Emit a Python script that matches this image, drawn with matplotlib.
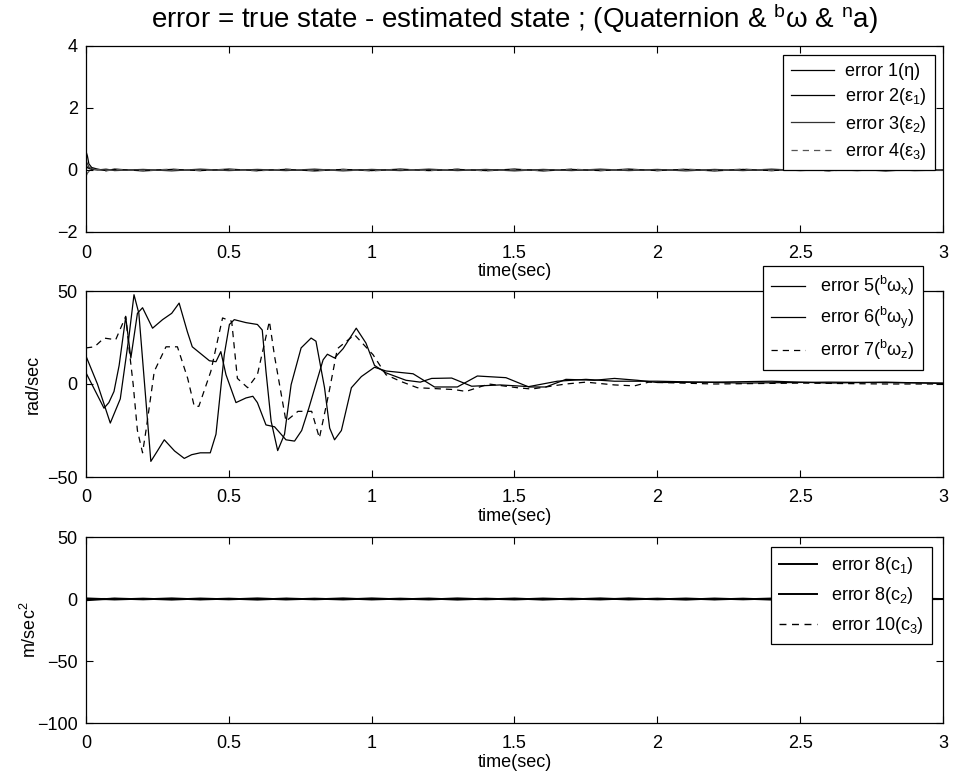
import matplotlib
matplotlib.use("Agg")
import matplotlib.pyplot as plt

plt.rcParams["font.family"] = ["Liberation Sans", "DejaVu Sans"]
plt.rcParams["mathtext.default"] = "regular"
plt.rcParams["font.size"] = 13

# ---- top panel: quaternion errors (tiny, spike at start)
t_q = [0, 0.005, 0.01, 0.02, 0.04, 0.07, 0.1, 0.2, 0.3, 0.4, 0.5, 0.6, 0.7, 0.8, 0.9, 1.0,
       1.1, 1.2, 1.3, 1.4, 1.5, 1.6, 1.7, 1.8, 1.9, 2.0, 2.1, 2.2, 2.3, 2.4, 2.5, 2.6, 2.7, 2.8, 2.9, 3.0]
q1 = [0.0, 0.1, 0.05, 0.02, 0.01, 0.0, 0.01, 0.0, 0.01, 0.0, 0.0, 0.01, 0.0, 0.0, 0.01, 0.0,
      0.0, 0.01, 0.0, 0.0, 0.0, 0.01, 0.0, 0.0, 0.0, 0.0, 0.01, 0.0, 0.0, 0.0, 0.0, 0.01, 0.0, 0.0, 0.0, 0.0]
q2 = [0.6, 0.45, 0.2, 0.08, 0.03, -0.02, 0.03, -0.03, 0.02, -0.02, 0.03, -0.02, 0.02, -0.03, 0.02, -0.02,
      0.03, -0.02, 0.02, -0.02, 0.03, -0.03, 0.02, -0.02, 0.03, -0.02, 0.02, -0.03, 0.02, -0.02, 0.03, -0.02, 0.02, -0.03, 0.02, 0.0]
q3 = [0.3, 0.2, 0.1, 0.04, 0.0, 0.03, -0.02, 0.02, -0.03, 0.03, -0.02, 0.02, -0.02, 0.03, -0.03, 0.02,
      -0.02, 0.03, -0.02, 0.02, -0.03, 0.02, -0.02, 0.03, -0.02, 0.02, -0.03, 0.02, -0.02, 0.03, -0.02, 0.02, -0.02, 0.03, -0.02, 0.0]
q4 = [-0.2, -0.1, -0.05, 0.0, 0.02, -0.03, 0.02, -0.02, 0.03, -0.02, 0.02, -0.03, 0.03, -0.02, 0.02, -0.03,
      0.02, -0.02, 0.03, -0.03, 0.02, -0.02, 0.03, -0.02, 0.02, -0.02, 0.03, -0.02, 0.03, -0.02, 0.02, -0.03, 0.03, -0.02, 0.02, 0.0]

# ---- middle panel: gyro bias errors
t_w5 = [0, 0.04, 0.085, 0.12, 0.15, 0.168, 0.185, 0.205, 0.227, 0.25, 0.274, 0.31, 0.344, 0.37, 0.4, 0.435,
        0.455, 0.484, 0.502, 0.519, 0.56, 0.6, 0.617, 0.63, 0.648, 0.671, 0.695, 0.718, 0.753, 0.788, 0.805,
        0.835, 0.853, 0.87, 0.894, 0.929, 0.964, 1.01, 1.05, 1.145, 1.22, 1.3, 1.37, 1.47, 1.55, 1.61, 1.68,
        1.78, 1.85, 1.93, 2.0, 2.2, 2.4, 2.6, 2.8, 3.0]
w5 = [15, 0, -21, -8, 25, 48, 38, 0, -41.6, -36, -30, -36, -40, -38, -37, -37,
      -27, 15.8, 32, 34.6, 33, 32, 29, 6.8, -20, -35.8, -27, -0.4, 19.4, 24.7, 23,
      -2, -23.7, -30, -25, -2, 4, 9, 7, 5.5, -1.6, -1.6, 4.3, 3.4, -1.6, -1.6, 2.5,
      2, 3, 2, 0.8, 1, 1.5, 0.5, 1, 0.3]

t_w6 = [0, 0.02, 0.063, 0.08, 0.098, 0.116, 0.139, 0.157, 0.18, 0.198, 0.233, 0.268, 0.3, 0.326, 0.355,
        0.372, 0.432, 0.455, 0.472, 0.49, 0.525, 0.56, 0.584, 0.6, 0.63, 0.66, 0.7, 0.73, 0.755, 0.78,
        0.83, 0.845, 0.87, 0.9, 0.946, 0.98, 1.01, 1.05, 1.12, 1.17, 1.21, 1.28, 1.35, 1.45, 1.55, 1.65,
        1.75, 1.85, 2.0, 2.3, 2.6, 3.0]
w6 = [6, 0, -13, -10, -4, 10, 36, 14, 38, 41, 30, 34.6, 38, 43.5, 28,
      20, 12.5, 12, 17.4, 5, -10, -7.5, -6.6, -10, -22, -23, -30, -30.7, -25, -13,
      13, 16, 14, 19, 30, 22, 10, 6, 2, 1, 3, 3.2, -1.2, -0.5, -1.4, 1.5,
      2.5, 1.5, 1.5, 0.5, 1, 0.5]

t_w7 = [0, 0.03, 0.063, 0.104, 0.139, 0.15, 0.165, 0.18, 0.198, 0.21, 0.239, 0.28, 0.32, 0.356, 0.379,
        0.395, 0.437, 0.46, 0.478, 0.51, 0.53, 0.566, 0.6, 0.642, 0.66, 0.7, 0.742, 0.79, 0.817, 0.85,
        0.88, 0.94, 1.005, 1.05, 1.1, 1.16, 1.29, 1.33, 1.41, 1.51, 1.56, 1.68, 1.75, 1.85, 1.92, 1.97,
        2.2, 2.5, 2.8, 3.0]
w7 = [19.4, 20, 24.7, 23.8, 36.4, 20, 0, -25, -37, -25, 6.8, 20, 20, 3, -12,
      -12, 6.8, 23, 35.5, 33.7, 3, -2, 5, 33.7, 15, -20, -14.7, -14.7, -29, -5,
      19, 26.5, 15.7, 5, 1.5, -2, -3, -4, 0, -2, -2.7, 0, 1, -0.5, -1, 1,
      0, 0.5, 0, 0]

# ---- bottom panel: accelerometer errors (flat with small noise)
t_a = [0, 0.1, 0.2, 0.3, 0.4, 0.5, 0.6, 0.7, 0.8, 0.9, 1.0, 1.1, 1.2, 1.3, 1.4, 1.5,
       1.6, 1.7, 1.8, 1.9, 2.0, 2.1, 2.2, 2.3, 2.4, 2.5, 2.6, 2.7, 2.8, 2.9, 3.0]
a1 = [-1.0, 0.4, -0.3, 0.5, -0.4, 0.3, -0.5, 0.4, -0.3, 0.5, -0.4, 0.3, -0.4, 0.5, -0.3, 0.4,
      -0.5, 0.3, -0.4, 0.5, -0.3, 0.4, -0.4, 0.3, -0.5, 0.4, -0.3, 0.5, -0.4, 0.3, 0.0]
a2 = [0.5, -0.4, 0.3, -0.5, 0.4, -0.3, 0.5, -0.4, 0.3, -0.4, 0.5, -0.3, 0.4, -0.5, 0.3, -0.4,
      0.4, -0.3, 0.5, -0.4, 0.3, -0.5, 0.4, -0.3, 0.4, -0.5, 0.3, -0.4, 0.5, -0.3, 0.0]
a3 = [0.2, 0.3, -0.2, 0.2, -0.3, 0.2, -0.2, 0.3, -0.2, 0.2, -0.3, 0.2, -0.2, 0.3, -0.2, 0.2,
      -0.3, 0.2, -0.2, 0.3, -0.2, 0.2, -0.3, 0.2, -0.2, 0.3, -0.2, 0.2, -0.3, 0.2, 0.0]

xticks = [0, 0.5, 1, 1.5, 2, 2.5, 3]
xticklabels = ["0", "0.5", "1", "1.5", "2", "2.5", "3"]

fig = plt.figure(figsize=(9.54, 7.78), dpi=100)
W, H = 954.0, 778.0
ax1 = fig.add_axes([86 / W, 1 - 232 / H, 857 / W, 186 / H])
ax2 = fig.add_axes([86 / W, 1 - 477 / H, 857 / W, 186 / H])
ax3 = fig.add_axes([86 / W, 1 - 723 / H, 857 / W, 186 / H])

lw = 0.9
ax1.plot(t_q, q1, color="black", lw=lw, label="error 1(η)")
ax1.plot(t_q, q2, color="black", lw=lw, label="error 2(ε$_1$)")
ax1.plot(t_q, q3, color="#333333", lw=lw, label="error 3(ε$_2$)")
ax1.plot(t_q, q4, color="#555555", lw=lw, ls=(0, (5, 4)), label="error 4(ε$_3$)")
ax1.set_ylim(-2, 4)
ax1.set_yticks([-2, 0, 2, 4])
ax1.set_title("error = true state - estimated state ; (Quaternion & $^b$ω & $^n$a)",
              fontsize=20, pad=13)

ax2.plot(t_w5, w5, color="black", lw=lw, label="error 5($^b$ω$_x$)")
ax2.plot(t_w6, w6, color="black", lw=lw, label="error 6($^b$ω$_y$)")
ax2.plot(t_w7, w7, color="black", lw=lw, ls=(0, (5, 4)), label="error 7($^b$ω$_z$)")
ax2.set_ylim(-50, 50)
ax2.set_yticks([-50, 0, 50])
ax2.set_ylabel("rad/sec")
ax2.yaxis.set_label_coords(-0.052, 0.5)

ax3.plot(t_a, a1, color="black", lw=1.4, label="error 8(c$_1$)")
ax3.plot(t_a, a2, color="black", lw=1.4, label="error 8(c$_2$)")
ax3.plot(t_a, a3, color="black", lw=1.0, ls=(0, (5, 4)), label="error 10(c$_3$)")
ax3.set_ylim(-100, 50)
ax3.set_yticks([-100, -50, 0, 50])
ax3.set_ylabel("m/sec$^2$")
ax3.yaxis.set_label_coords(-0.054, 0.5)

for ax in (ax1, ax2, ax3):
    ax.set_xlim(0, 3)
    ax.set_xticks(xticks)
    ax.set_xticklabels(xticklabels)
    ax.set_xlabel("time(sec)", labelpad=1)
    ax.tick_params(axis="x", direction="in", top=True, length=5, width=0.8, pad=9)
    ax.tick_params(axis="y", direction="in", right=True, length=5, width=0.8, pad=6)
    for s in ax.spines.values():
        s.set_linewidth(0.9)

leg_kw = dict(loc="upper left", bbox_transform=fig.transFigure, fancybox=False,
              framealpha=1, edgecolor="black",
              borderpad=0.45, borderaxespad=0, fontsize=13)
l1 = ax1.legend(bbox_to_anchor=(783 / W, 1 - 55 / H), labelspacing=0.35,
                handlelength=2.4, handletextpad=0.6, **leg_kw)
l2 = ax2.legend(bbox_to_anchor=(763 / W, 1 - 266 / H), labelspacing=0.38,
                handlelength=1.9, handletextpad=0.8, **leg_kw)
l3 = ax3.legend(bbox_to_anchor=(771 / W, 1 - 547 / H), labelspacing=0.5,
                handlelength=2.1, handletextpad=0.8, **leg_kw)
for lg in (l1, l2, l3):
    lg.get_frame().set_linewidth(0.9)
    lg.set_zorder(5)

fig.savefig("out.png", dpi=100)
